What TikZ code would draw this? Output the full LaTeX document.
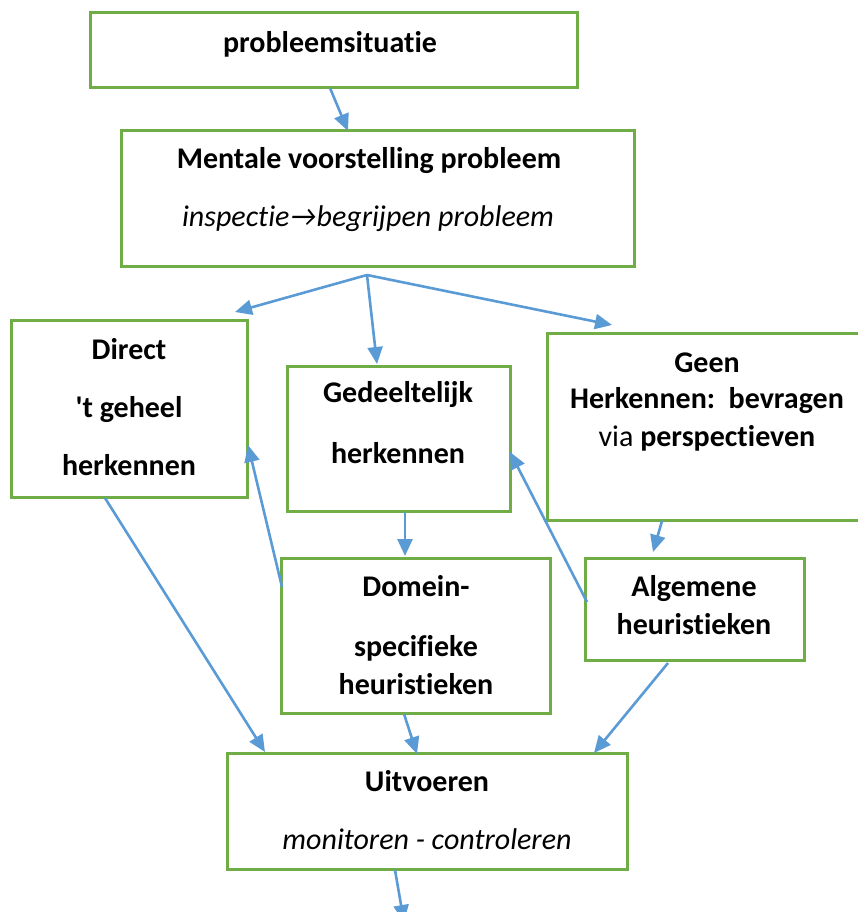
\documentclass[tikz,border=0pt]{standalone}
\usepackage{fontspec}
\setmainfont{Carlito}[Ligatures=NoCommon]
\newfontfamily\straightfont{Carlito}
\usetikzlibrary{arrows.meta,calc}
\definecolor{boxgreen}{HTML}{70AD47}
\definecolor{flowblue}{HTML}{5B9BD5}
\tikzset{
  stepbox/.style={draw=boxgreen, line width=3pt, inner sep=0pt, outer sep=0pt, anchor=north west},
  flow/.style={draw=flowblue, line width=2.6pt, -{Triangle[length=17pt,width=15pt]}},
  lbl/.style={font=\fontsize{30}{34}\selectfont\bfseries, anchor=base, inner sep=0pt},
  ilbl/.style={font=\fontsize{30}{34}\selectfont\itshape, anchor=base, inner sep=0pt},
  rlbl/.style={font=\fontsize{30}{34}\selectfont, anchor=base, inner sep=0pt},
}
\begin{document}
\begin{tikzpicture}[x=1pt,y=-1pt]
\useasboundingbox (0,0) rectangle (857,912);

% boxes
\node[stepbox, minimum width=487pt, minimum height=75pt]  (b1) at (90,13)  {};
\node[stepbox, minimum width=513pt, minimum height=135pt] (b2) at (121,131) {};
\node[stepbox, minimum width=236pt, minimum height=177pt] (b3) at (11,320) {};
\node[stepbox, minimum width=223pt, minimum height=145pt] (b4) at (287,366) {};
\node[stepbox, minimum width=320pt, minimum height=187pt] (b5) at (547,333) {};
\node[stepbox, minimum width=269pt, minimum height=155pt] (b6) at (281,558) {};
\node[stepbox, minimum width=219pt, minimum height=102pt] (b7) at (585,558) {};
\node[stepbox, minimum width=400pt, minimum height=116pt] (b8) at (227,753) {};

% texts
\node[lbl]  (t1)  at (330,53)  {probleemsituatie};
\node[lbl]  (t2a) at (369,169) {Mentale voorstelling probleem};
\node[ilbl] (t2b) at (368,226) {inspectie→begrijpen probleem};
\node[lbl]  (t3a) at (129,359) {Direct};
\node[lbl]  (t3b) at (129,417) {{\straightfont\bfseries '}t geheel};
\node[lbl]  (t3c) at (129,475) {herkennen};
\node[lbl]  (t4a) at (398,402) {Gedeeltelijk};
\node[lbl]  (t4b) at (398,463) {herkennen};
\node[lbl]  (t5a) at (707,372) {Geen};
\node[lbl]  (t5b) at (707,408) {Herkennen:\ \ bevragen};
\node[rlbl] (t5c) at (707,446) {via \textbf{perspectieven}};
\node[lbl]  (t6a) at (416,596) {Domein-};
\node[lbl]  (t6b) at (416,656) {specifieke};
\node[lbl]  (t6c) at (416,694) {heuristieken};
\node[lbl]  (t7a) at (694,596) {Algemene};
\node[lbl]  (t7b) at (694,634) {heuristieken};
\node[lbl]  (t8a) at (427,791) {Uitvoeren};
\node[ilbl] (t8b) at (427,849) {monitoren - controleren};

% connectors
\coordinate (fan) at ($(b2.south west)+(246,9)$);
\coordinate (out) at (404,922);
\draw[flow] ($(b1.south west)+(240,0)$) -- ($(b2.north west)+(227,0)$);
\draw[flow] (fan) -- ($(b3.north east)+(-12,-8)$);
\draw[flow] (fan) -- ($(b4.north west)+(90,-2)$);
\draw[flow] (fan) -- ($(b5.north west)+(65,-8)$);
\draw[flow] ($(b4.south west)+(118,1)$) -- ($(b6.north west)+(124,-2)$);
\draw[flow] ($(b5.south west)+(115,1)$) -- ($(b7.north west)+(68,-6)$);
\draw[flow] ($(b6.north west)+(1,29)$) -- ($(b3.north east)+(1,125)$);
\draw[flow] ($(b7.north west)+(2,44)$) -- ($(b4.north east)+(0,86)$);
\draw[flow] ($(b3.south west)+(94,1)$) -- ($(b8.north west)+(38,-1)$);
\draw[flow] ($(b6.south west)+(123,1)$) -- ($(b8.north west)+(190,1)$);
\draw[flow] ($(b7.south west)+(83,3)$) -- ($(b8.north west)+(367,0)$);
\draw[flow] ($(b8.south west)+(168,1)$) -- (out);
\end{tikzpicture}
\end{document}
